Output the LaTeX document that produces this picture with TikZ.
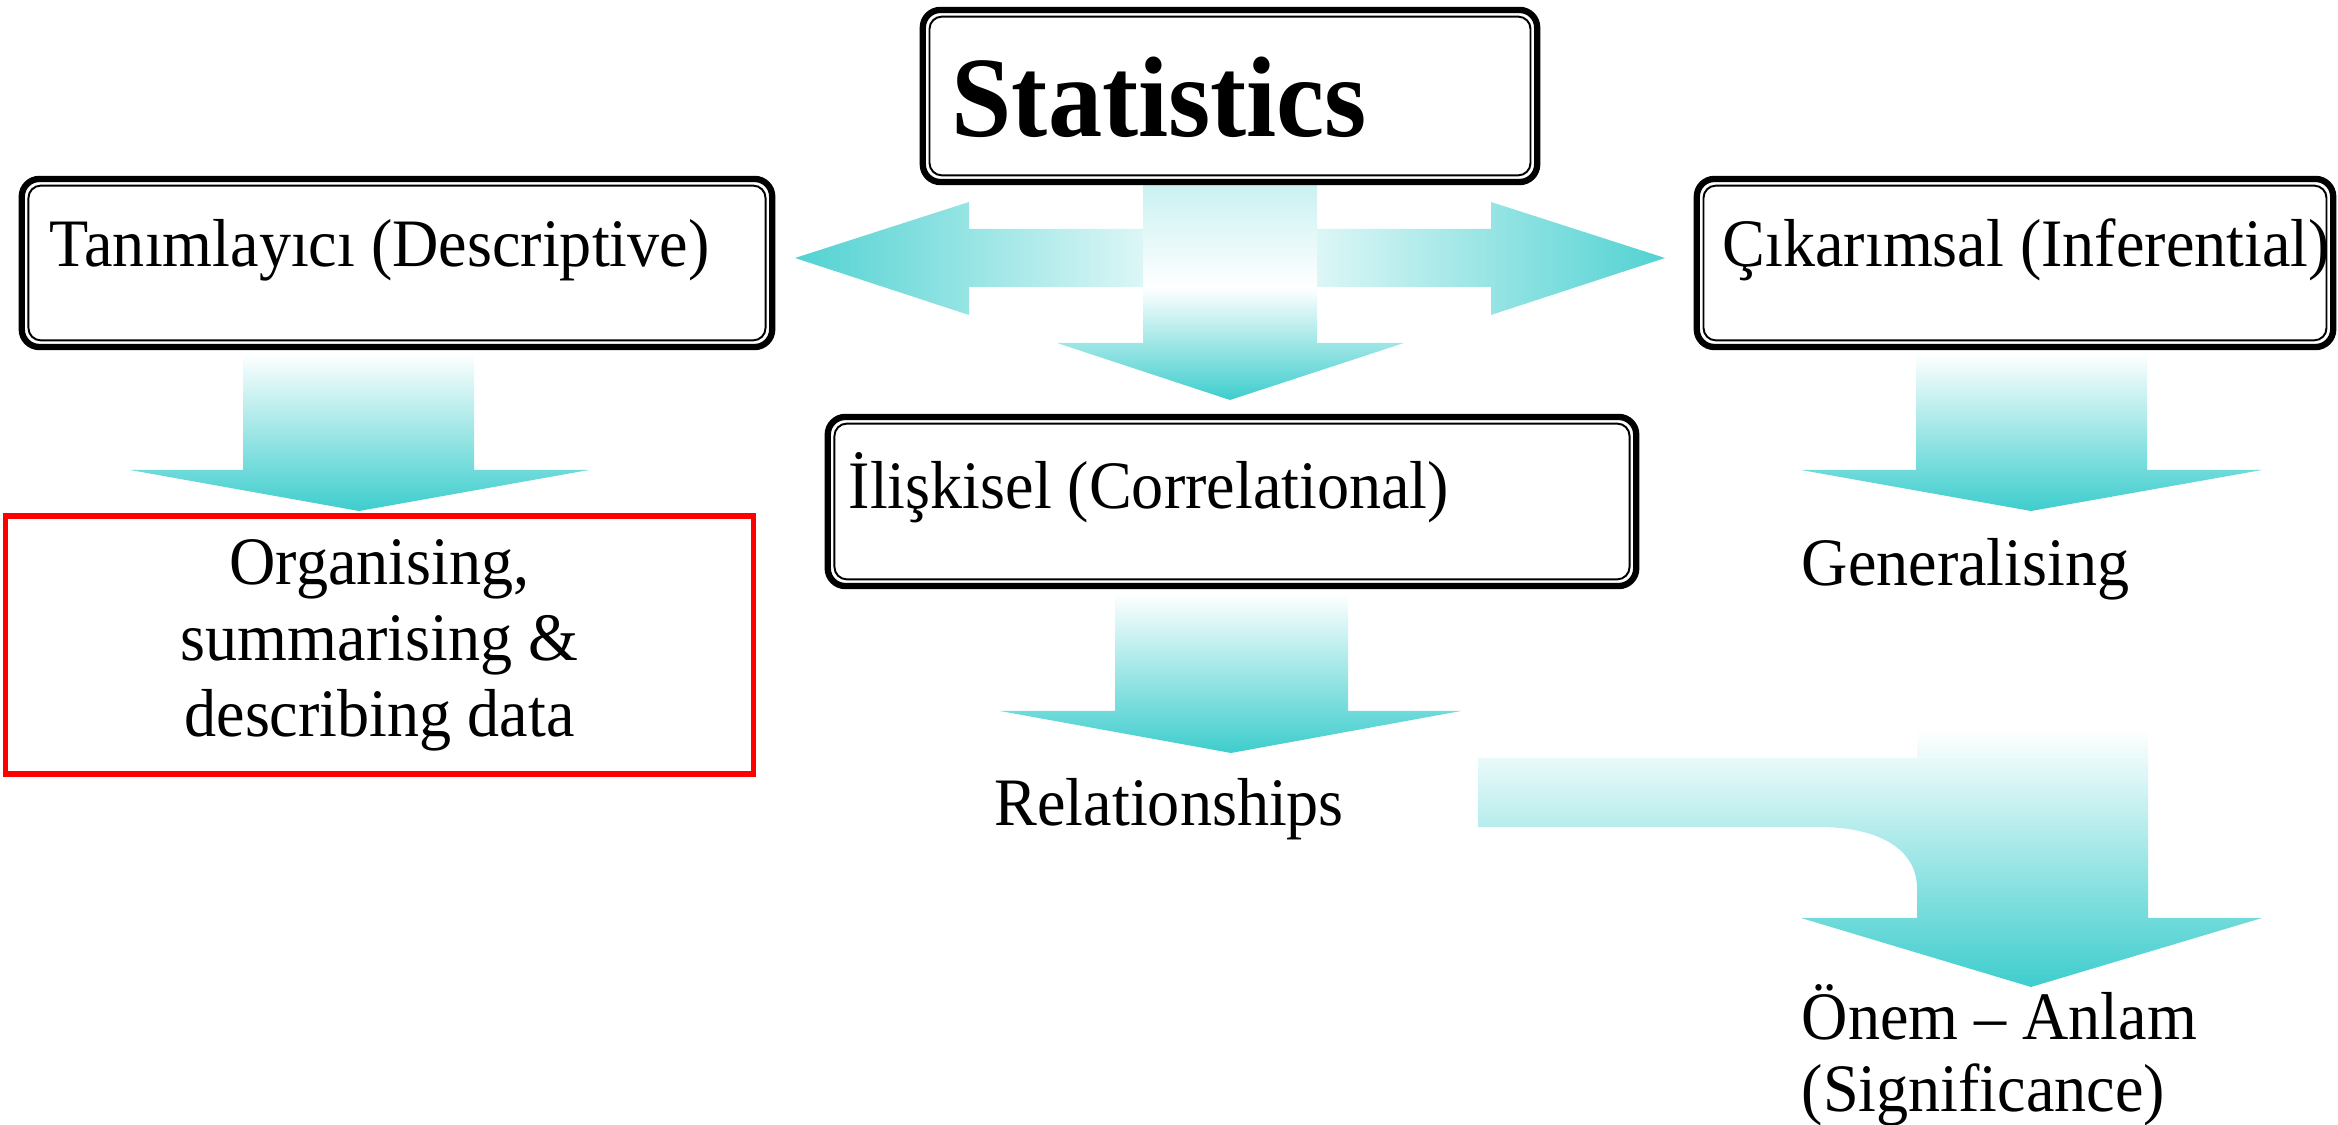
\documentclass[tikz,border=0pt]{standalone}
\usepackage{fontspec}
\setmainfont{Liberation Serif}[FakeStretch=0.945]
\definecolor{aqua}{RGB}{62,205,205}
\begin{document}
\begin{tikzpicture}[x=0.01cm,y=-0.01cm,
  dbox/.style={draw, line width=1.8pt, rounded corners=5pt, fill=white, inner sep=0pt},
  txt/.style={font=\fontsize{19.3}{22}\selectfont, inner sep=0pt, anchor=base west},
  downarrow/.style={top color=white, bottom color=aqua},
  ]
\useasboundingbox (0,0) rectangle (2338,1125);

% central cross arrow
\shade[left color=aqua!90, right color=aqua!90, middle color=white]
  (795,258) -- (969,202) -- (969,229) -- (1491,229) -- (1491,202) -- (1665,258)
  -- (1491,315) -- (1491,287) -- (969,287) -- (969,315) -- cycle;
\shade[top color=aqua!30, bottom color=aqua, middle color=white]
  (1143,175) -- (1317,175) -- (1317,343) -- (1404,343) -- (1230,400)
  -- (1057,343) -- (1143,343) -- cycle;

% down arrows
\shade[downarrow] (243,353) -- (474,353) -- (474,470) -- (589,470) -- (359,511)
  -- (130,470) -- (243,470) -- cycle;
\shade[downarrow] (1916,353) -- (2147,353) -- (2147,470) -- (2262,470) -- (2031,511)
  -- (1801,470) -- (1916,470) -- cycle;
\shade[downarrow] (1115,593) -- (1348,593) -- (1348,711) -- (1461,711) -- (1231,753)
  -- (1000,711) -- (1115,711) -- cycle;

% bent arrow
\shade[top color=white, middle color=aqua!15, bottom color=aqua]
  (1478,758) -- (1917,758) -- (1917,730) -- (2148,730) -- (2148,918) -- (2262,918)
  -- (2031,987) -- (1801,918) -- (1917,918) -- (1917,888)
  .. controls (1917,850) and (1880,827) .. (1819,827) -- (1478,827) -- cycle;

% boxes
\node[dbox, minimum width=6.14cm, minimum height=1.72cm] (stat) at (1230,96) {};
\node[dbox, minimum width=7.5cm, minimum height=1.68cm] (desc) at (397,263) {};
\node[dbox, minimum width=6.36cm, minimum height=1.68cm] (infer) at (2015,263) {};
\node[dbox, minimum width=8.08cm, minimum height=1.69cm] (corr) at (1232,501.5) {};
\foreach \n in {stat,desc,infer,corr}
  \draw[line width=0.55pt, rounded corners=3.5pt]
    ([xshift=2.8pt,yshift=2.8pt]\n.south west) rectangle ([xshift=-2.8pt,yshift=-2.8pt]\n.north east);

\node[draw=red, line width=1.5pt, minimum width=7.47cm, minimum height=2.58cm,
  inner sep=0pt, align=center, font=\fontsize{19.3}{21.6}\selectfont] (org) at (379.5,645)
  {Organising,\\summarising \&\\describing data};

% texts
\node[txt, font=\bfseries\fontsize{32.6}{36}\selectfont] (statT) at (951,137) {Statistics};
\node[txt] (descT) at (49,267) {Tanımlayıcı (Descriptive)};
\node[txt] (inferT) at (1722,267) {Çıkarımsal (Inferential)};
\node[txt] (corrT) at (848,509) {İlişkisel (Correlational)};
\node[txt] (rel) at (994,826) {Relationships};
\node[txt] (gen) at (1801,586) {Generalising};
\node[txt] (sig1) at (1801,1040) {Önem – Anlam};
\node[txt] (sig2) at (1801,1112) {(Significance)};
\end{tikzpicture}
\end{document}
